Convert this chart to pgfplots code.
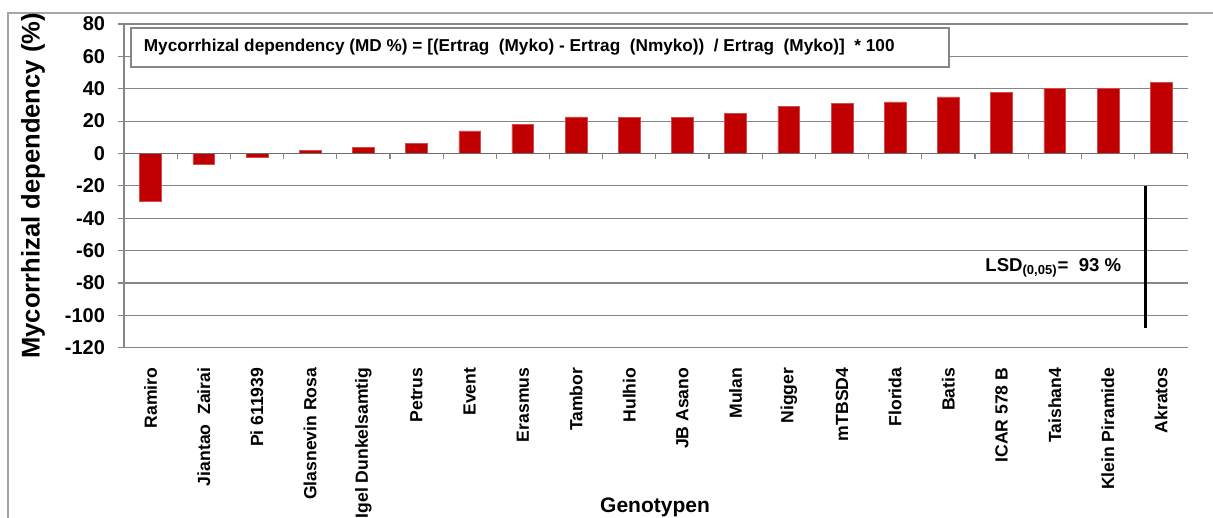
\documentclass[border=0pt]{standalone}
\usepackage{pgfplots}
\usepackage{pgfplotstable}
\pgfplotsset{compat=1.18}
\usepackage{fontspec}
\setmainfont{Liberation Sans}
\definecolor{barred}{HTML}{C00000}
\definecolor{gridgray}{HTML}{868686}
\definecolor{framegray}{HTML}{A6A6A6}
\pgfplotstableread{
idx val
0 -29.3
1 -6.6
2 -2.3
3 1.9
4 3.7
5 6.0
6 13.9
7 18.0
8 22.6
9 22.4
10 22.4
11 24.9
12 29.2
13 30.9
14 31.9
15 35.0
16 37.7
17 40.4
18 40.4
19 43.7
}\mdtable
\begin{document}
\begin{tikzpicture}
\draw[framegray, line width=0.8pt] (-58pt,-200pt) rectangle (650pt,167.35pt);
\begin{axis}[
  scale only axis, width=531.85pt, height=161.85pt,
  xmin=-0.5, xmax=19.5, ymin=-120, ymax=80,
  axis lines*=left,
  axis line style={gridgray, line width=0.75pt},
  xtick={0,...,19},
  xticklabels={Ramiro, Jiantao\ \ Zairai, Pi 611939, Glasnevin Rosa, Igel Dunkelsamtig, Petrus, Event, Erasmus, Tambor, Hulhio, JB Asano, Mulan, Nigger, mTBSD4, Florida, Batis, ICAR 578 B, Taishan4, Klein Piramide, Akratos},
  x tick label style={rotate=90, anchor=east, font=\fontsize{8.8}{10}\selectfont\bfseries, inner sep=0pt},
  xticklabel shift=7pt,
  major x tick style={draw=none},
  ytick={-120,-100,-80,-60,-40,-20,0,20,40,60,80},
  yticklabels={-120,-100,-80,-60,-40,-20,0,20,40,60,80},
  y tick label style={font=\fontsize{10}{12}\selectfont\bfseries, inner sep=0pt},
  yticklabel shift=6.5pt,
  tick align=outside, major tick length=2.8pt,
  major y tick style={gridgray, line width=0.6pt},
  ymajorgrids, grid style={gridgray, line width=0.6pt},
  ylabel={Mycorrhizal dependency (\%)},
  ylabel style={at={(axis description cs:-0.0855,0.5)}, anchor=center, font=\fontsize{12.8}{14}\selectfont\bfseries},
  xlabel={Genotypen},
  xlabel style={at={(axis description cs:0.4992,-0.5104)}, anchor=base, font=\fontsize{10.5}{12}\selectfont\bfseries},
  clip=false,
]
\addplot[ybar, bar width=0.41, fill=barred, draw=barred!70!white, line width=0.3pt] table[x=idx, y=val] {\mdtable};
\addplot[gridgray!80!black, line width=0.8pt] coordinates {(-0.5,0) (19.5,0)};
\pgfplotsinvokeforeach{0,...,20}{\draw[gridgray, line width=0.6pt] (axis cs:#1-0.5,0) -- ++(0pt,-2.6pt);}
\addplot[black, line width=1.5pt] coordinates {(18.7,-20) (18.7,-108)};
\end{axis}
\draw[gridgray, line width=0.6pt, fill=white] (3.5pt,140.35pt) rectangle (412.5pt,159.85pt);
\node[anchor=west, inner sep=0pt, font=\fontsize{8.6}{10}\selectfont\bfseries] at (9.75pt,150.1pt) {Mycorrhizal dependency (MD \%) = [(Ertrag\ \ (Myko) - Ertrag\ \ (Nmyko))\ \ / Ertrag\ \ (Myko)]\ \ * 100};
\node[anchor=base west, inner sep=0pt, font=\fontsize{9.3}{11}\selectfont\bfseries] at (430.5pt,38pt) {LSD\textsubscript{(0,05)}=\ \ 93 \%};
\pgfresetboundingbox
\useasboundingbox (-62pt,-85.15pt) rectangle (544.5pt,173.85pt);
\end{tikzpicture}
\end{document}
